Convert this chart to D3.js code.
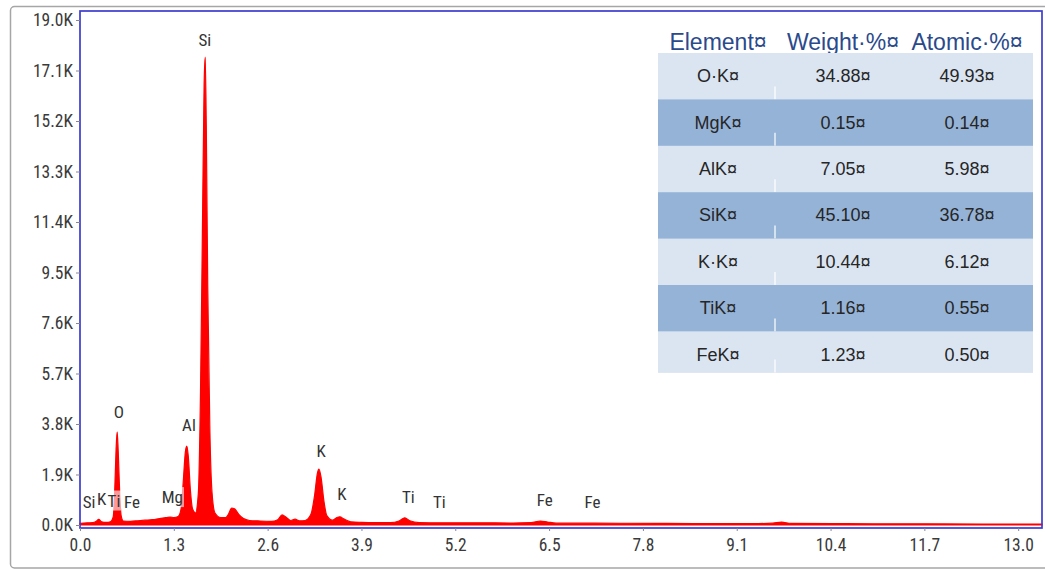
<!DOCTYPE html>
<html>
<head>
<meta charset="utf-8">
<script src="https://cdn.jsdelivr.net/npm/d3@7/dist/d3.min.js"></script>
<style>
  html, body { margin: 0; padding: 0; background: #fff; }
  svg { display: block; }
</style>
</head>
<body>
<svg id="chart" width="1045" height="570"></svg>
<script>
// ---------------- DATA ----------------
// EDS spectrum: energy (keV) and counts
const energy = [0.00, 0.10, 0.18, 0.22, 0.26, 0.30, 0.36, 0.42, 0.46, 0.48, 0.50, 0.515, 0.53, 0.55, 0.57, 0.60,
  0.70, 0.80, 0.90, 1.00, 1.10, 1.20, 1.25, 1.30, 1.36, 1.40, 1.43, 1.46, 1.48, 1.50, 1.53, 1.56, 1.60,
  1.64, 1.67, 1.70, 1.72, 1.735, 1.75, 1.77, 1.80, 1.83, 1.87, 1.95, 2.02, 2.06, 2.10, 2.14, 2.20, 2.26,
  2.35, 2.50, 2.65, 2.74, 2.80, 2.86, 2.92, 2.98, 3.04, 3.12, 3.20, 3.25, 3.29, 3.31, 3.34, 3.38, 3.42,
  3.50, 3.56, 3.60, 3.66, 3.75, 3.90, 4.10, 4.30, 4.42, 4.50, 4.57, 4.70, 5.00, 5.50, 6.00, 6.25, 6.38,
  6.48, 6.60, 7.10, 7.60, 8.00, 8.50, 9.00, 9.40, 9.60, 9.72, 9.85, 10.5, 11.0, 11.5, 12.0, 12.5, 13.0, 13.33];
const counts = [60, 80, 90, 130, 210, 120, 100, 120, 300, 1200, 2850, 3500, 2750, 1200, 350, 150,
  140, 160, 180, 200, 240, 280, 300, 280, 320, 600, 1600, 2750, 2970, 2600, 1300, 600, 450,
  1200, 5000, 12000, 16600, 17600, 15000, 9000, 3500, 1200, 450, 280, 280, 420, 640, 610, 400, 250,
  170, 150, 140, 200, 380, 280, 170, 220, 160, 170, 400, 1100, 1950, 2100, 1800, 900, 350,
  180, 280, 310, 220, 120, 100, 90, 90, 150, 270, 160, 90, 80, 80, 75, 90, 150,
  110, 70, 70, 65, 60, 55, 55, 55, 70, 110, 60, 50, 45, 45, 40, 35, 30, 30];

// Peak labels: element, energy position (keV), label height (counts)
const peakLabels = ["Si", "O", "Al", "K", "K", "Si", "K", "Ti", "Fe", "Mg", "Ti", "Ti", "Fe", "Fe"];
const peakLabelE = [1.73, 0.54, 1.51, 3.34, 3.63, 0.125, 0.30, 0.47, 0.72, 1.28, 4.55, 4.98, 6.44, 7.10];
const peakLabelC = [18250, 4250, 3750, 2800, 1150, 880, 980, 920, 880, 1050, 1050, 880, 950, 880];

// Axis ticks
const xTicks = [0.0, 1.3, 2.6, 3.9, 5.2, 6.5, 7.8, 9.1, 10.4, 11.7, 13.0];
const yTicks = [0, 1900, 3800, 5700, 7600, 9500, 11400, 13300, 15200, 17100, 19000];

// Table
const tableHeader = ["Element¤", "Weight·%¤", "Atomic·%¤"];
const tableElements = ["O·K¤", "MgK¤", "AlK¤", "SiK¤", "K·K¤", "TiK¤", "FeK¤"];
const tableWeight = ["34.88¤", "0.15¤", "7.05¤", "45.10¤", "10.44¤", "1.16¤", "1.23¤"];
const tableAtomic = ["49.93¤", "0.14¤", "5.98¤", "36.78¤", "6.12¤", "0.55¤", "0.50¤"];

// ---------------- DRAW ----------------
const svg = d3.select("#chart");
const plot = { left: 80, right: 1042, top: 11, bottom: 528 };
const tickFont = "'Liberation Sans Narrow', 'Roboto Condensed', 'Liberation Sans', Arial, sans-serif";

// outer grey frame
svg.append("rect")
  .attr("x", 10.5).attr("y", 6.5).attr("width", 1060).attr("height", 561.5)
  .attr("rx", 4).attr("fill", "#fff").attr("stroke", "#a6a6a6").attr("stroke-width", 1.5);

const x = d3.scaleLinear().domain([0, 13.33]).range([plot.left, plot.right]);
const y = d3.scaleLinear().domain([-113, 19339]).range([plot.bottom, plot.top]);

const spectrum = energy.map((e, i) => ({ e, c: counts[i] }));

// spectrum area
const area = d3.area()
  .x(d => x(d.e))
  .y0(y(0))
  .y1(d => y(d.c))
  .curve(d3.curveMonotoneX);

svg.append("path")
  .datum(spectrum)
  .attr("d", area)
  .attr("fill", "#ff0000")
  .attr("stroke", "#ff0000")
  .attr("stroke-width", 1.2);

// peak labels with translucent background
const lblG = svg.append("g")
  .attr("font-family", tickFont)
  .attr("font-size", 17)
  .attr("fill", "#333");
peakLabels.forEach((t, i) => {
  const cx = x(peakLabelE[i]);
  const cy = y(peakLabelC[i]);
  const txt = lblG.append("text")
    .attr("x", cx).attr("y", cy)
    .attr("text-anchor", "middle")
    .attr("dominant-baseline", "central")
    .text(t);
  const bb = txt.node().getBBox();
  lblG.insert("rect", "text")
    .attr("x", bb.x - 1).attr("y", bb.y)
    .attr("width", bb.width + 2).attr("height", bb.height)
    .attr("fill", "#fff").attr("fill-opacity", 0.6);
});

// plot frame (blue)
svg.append("rect")
  .attr("x", plot.left).attr("y", plot.top)
  .attr("width", plot.right - plot.left).attr("height", plot.bottom - plot.top)
  .attr("fill", "none").attr("stroke", "#3c3cd0").attr("stroke-width", 1.7);

// Y axis
const yAxis = d3.axisLeft(y)
  .tickValues(yTicks)
  .tickSize(4)
  .tickPadding(3)
  .tickFormat(v => (v / 1000).toFixed(1) + "K");
const gy = svg.append("g").attr("transform", `translate(${plot.left},0)`).call(yAxis);
gy.select(".domain").remove();
gy.selectAll(".tick line").attr("stroke", "#888");
gy.selectAll(".tick text").attr("font-family", tickFont).attr("font-size", 17.5).attr("fill", "#3a3a3a");

// X axis
const xAxis = d3.axisBottom(x)
  .tickValues(xTicks)
  .tickSize(3)
  .tickPadding(8)
  .tickFormat(v => v.toFixed(1));
const gx = svg.append("g").attr("transform", `translate(0,${plot.bottom})`).call(xAxis);
gx.select(".domain").remove();
gx.selectAll(".tick line").attr("stroke", "#888");
gx.selectAll(".tick text").attr("font-family", tickFont).attr("font-size", 17.5).attr("fill", "#3a3a3a");

// ---------------- TABLE ----------------
const tbl = { left: 658, right: 1033, top: 53, rowH: 46.4, lastH: 41 };
const colX = [718, 843, 967];
const tg = svg.append("g").attr("font-family", "'Liberation Sans', Arial, sans-serif");

tableHeader.forEach((h, i) => {
  tg.append("text")
    .attr("x", colX[i]).attr("y", 50)
    .attr("text-anchor", "middle")
    .attr("font-size", 23)
    .attr("fill", "#2a4a8c")
    .text(h);
});

tableElements.forEach((el, r) => {
  const top = tbl.top + r * tbl.rowH;
  const h = r === tableElements.length - 1 ? tbl.lastH : tbl.rowH;
  tg.append("rect")
    .attr("x", tbl.left).attr("y", top)
    .attr("width", tbl.right - tbl.left).attr("height", h + 0.5)
    .attr("fill", r % 2 === 0 ? "#dbe5f1" : "#95b3d7");
  tg.append("line")
    .attr("x1", 775).attr("x2", 775)
    .attr("y1", top + h - 13).attr("y2", top + h)
    .attr("stroke", "#fff").attr("stroke-width", 1.5).attr("stroke-opacity", 0.8);
  const vals = [el, tableWeight[r], tableAtomic[r]];
  vals.forEach((v, c) => {
    tg.append("text")
      .attr("x", colX[c]).attr("y", top + tbl.rowH / 2)
      .attr("text-anchor", "middle")
      .attr("dominant-baseline", "central")
      .attr("font-size", 18)
      .attr("fill", "#262626")
      .text(v);
  });
});
</script>
</body>
</html>
